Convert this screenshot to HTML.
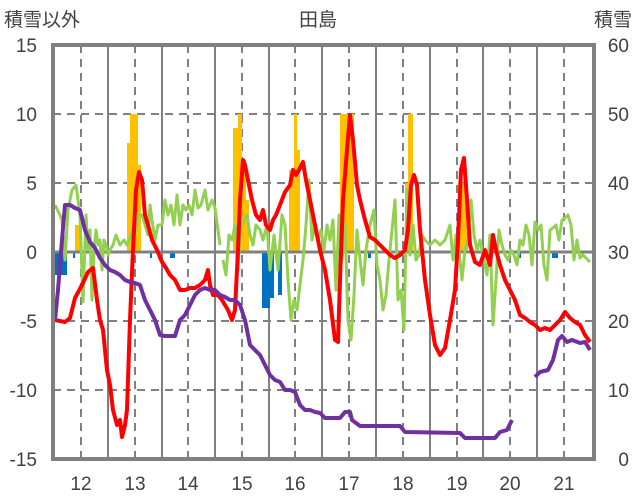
<!DOCTYPE html>
<html><head><meta charset="utf-8"><style>
html,body{margin:0;padding:0;background:#fff;}
svg{display:block;font-family:"Liberation Sans","Noto Sans CJK JP",sans-serif;}
</style></head><body>
<svg width="636" height="501" viewBox="0 0 636 501" xmlns="http://www.w3.org/2000/svg">
<rect width="636" height="501" fill="#fff"/>
<g stroke="#808080" stroke-width="2" stroke-dasharray="8,6">
<line x1="53" y1="114" x2="594" y2="114"/><line x1="53" y1="183" x2="594" y2="183"/>
<line x1="53" y1="321" x2="594" y2="321"/><line x1="53" y1="390" x2="594" y2="390"/>
<line x1="81" y1="45" x2="81" y2="459"/><line x1="135" y1="45" x2="135" y2="459"/>
<line x1="188" y1="45" x2="188" y2="459"/><line x1="242" y1="45" x2="242" y2="459"/>
<line x1="295" y1="45" x2="295" y2="459"/><line x1="349" y1="45" x2="349" y2="459"/>
<line x1="403" y1="45" x2="403" y2="459"/><line x1="457" y1="45" x2="457" y2="459"/>
<line x1="510" y1="45" x2="510" y2="459"/><line x1="564" y1="45" x2="564" y2="459"/>
</g>
<g stroke="#808080" stroke-width="2">
<line x1="108" y1="45" x2="108" y2="459"/><line x1="162" y1="45" x2="162" y2="459"/>
<line x1="215" y1="45" x2="215" y2="459"/><line x1="269" y1="45" x2="269" y2="459"/>
<line x1="322" y1="45" x2="322" y2="459"/><line x1="376" y1="45" x2="376" y2="459"/>
<line x1="430" y1="45" x2="430" y2="459"/><line x1="483" y1="45" x2="483" y2="459"/>
<line x1="537" y1="45" x2="537" y2="459"/>
</g>
<g fill="#ffc000">
<rect x="75" y="225" width="5" height="27"/>
<rect x="127" y="143" width="3" height="109"/><rect x="130" y="114" width="8" height="138"/><rect x="138" y="165" width="3" height="87"/>
<rect x="233" y="128" width="5" height="124"/><rect x="238" y="114" width="4" height="138"/><rect x="242" y="160" width="4" height="92"/><rect x="246" y="200" width="3" height="52"/>
<rect x="289" y="170" width="5" height="82"/><rect x="294" y="114" width="3" height="138"/><rect x="297" y="150" width="3" height="102"/>
<rect x="340" y="114" width="14" height="138"/>
<rect x="405" y="183" width="3" height="69"/><rect x="408" y="114" width="5" height="138"/>
<rect x="458" y="183" width="10" height="69"/>
</g>
<g fill="#0070c0">
<rect x="55" y="252" width="12" height="23"/>
<rect x="262" y="252" width="8" height="56"/><rect x="270" y="252" width="4" height="46"/><rect x="278" y="252" width="4" height="43"/>
<rect x="73" y="252" width="2" height="6"/><rect x="150" y="252" width="2" height="6"/><rect x="170" y="252" width="5" height="6"/>
<rect x="368" y="252" width="3" height="6"/><rect x="518" y="252" width="3" height="6"/><rect x="552" y="252" width="6" height="6"/>
</g>
<line x1="53" y1="252" x2="594" y2="252" stroke="#808080" stroke-width="3"/>
<polyline fill="none" stroke="#92d050" stroke-width="3" stroke-linejoin="round" points="55,205 60,215 62,220 65,260 68,210 72,190 76,185 78,200 80,215 83,302 86,215 88,250 90,230 92,300 94,250 96,230 98,245 100,240 102,270 104,240 106,245 108,255 110,250 113,245 116,235 120,245 124,240 127,245 131,235 134,225 136,232 138,215 142,215 145,225 148,235 150,205 152,220 155,240 158,225 162,225 165,200 168,215 171,205 174,225 177,195 180,225 183,205 186,210 189,205 192,215 195,190 198,208 201,205 205,190 208,210 212,200 215,208 220,245"/>
<polyline fill="none" stroke="#92d050" stroke-width="3" stroke-linejoin="round" points="223,260 226,275 229,235 232,240 235,225 238,270 240,230 244,220 247,215 250,235 253,245 256,225 260,230 263,240 267,225 270,270 274,235 278,270 282,215 285,225 288,280 291,320 294,300 297,310 300,285 303,260 306,225 309,180 312,240 315,225 318,240 321,230 324,250 327,225 330,240 333,220 336,290 339,215 342,260 345,225 348,320 351,340 354,295 357,230 360,260 363,285 366,250 370,225 374,210 377,265 380,280 383,310 386,295 389,260 392,230 395,200 398,300 401,290 404,330 407,190 410,255 413,225 416,260 419,255 422,235 425,240 430,245 435,240 440,245 445,240 450,225 453,260 456,235 459,250 462,280 465,250 468,240 471,200 474,235 477,250 480,240 484,260 487,275 490,235 493,325 496,280 499,230 502,245 505,255 508,260 511,250 514,255 517,265 520,240 523,245 526,225 529,235 532,265 535,222 538,230 541,225 544,265 547,280 550,230 553,228 556,225 559,240 562,220 565,218 568,215 571,225 574,260 577,240 580,258 583,255 586,258 590,262"/>
<polyline fill="none" stroke="#ff0000" stroke-width="4" stroke-linejoin="round" points="55,320 65,322 70,318 75,298 82,285 88,272 93,268 97,300 100,320 103,330 107,370 110,385 113,410 117,425 120,420 122,437 125,425 127,410 130,320 133,250 136,190 139,172 142,180 145,215 148,225 152,240 157,250 162,262 166,268 170,275 175,280 180,290 185,290 190,288 195,288 200,285 205,280 208,270 210,285 213,295 218,295 222,300 228,310 232,320 235,310 238,250 240,200 243,160 245,165 248,180 252,200 256,215 260,220 263,210 266,225 270,230 273,220 276,215 280,205 285,192 290,185 293,170 296,175 300,168 303,162 306,180 310,200 313,215 316,230 320,250 325,270 330,300 335,340 338,342 340,280 343,200 347,150 350,115 353,140 357,185 360,200 365,220 370,237 375,240 380,245 385,250 390,255 395,258 400,255 405,250 408,230 411,185 414,175 417,185 420,230 425,280 430,315 435,345 440,355 445,348 450,320 455,290 458,240 461,170 464,158 467,200 470,245 475,262 480,265 485,250 490,265 493,235 496,250 500,265 505,280 510,290 515,300 520,315 525,318 530,322 535,325 540,330 545,328 550,330 555,325 560,320 565,312 570,318 575,322 580,325 585,335 590,342"/>
<polyline fill="none" stroke="#7030a0" stroke-width="4" stroke-linejoin="round" points="55,320 58,290 62,240 65,205 70,205 75,208 80,210 85,230 90,242 95,248 100,258 105,265 110,270 115,272 120,275 125,280 130,282 135,283 140,285 145,300 150,310 155,320 160,335 165,336 170,336 175,336 180,320 185,315 190,305 195,295 200,290 205,288 210,290 215,290 220,295 225,297 230,300 235,300 240,305 245,320 250,345 255,350 260,355 265,365 270,375 275,380 280,382 285,390 290,390 295,392 300,405 305,410 310,410 315,412 320,413 325,418 340,418 345,412 350,412 352,420 360,426 400,426 405,432 460,433 465,438 495,438 500,432 507,430 512,420"/>
<polyline fill="none" stroke="#7030a0" stroke-width="4" stroke-linejoin="round" points="535,377 540,372 548,370 553,360 558,340 562,336 567,342 572,340 580,343 585,342 590,350"/>
<rect x="53" y="45" width="541" height="414" fill="none" stroke="#808080" stroke-width="4"/>
<g font-size="19" fill="#404040" text-anchor="end">
<text x="37" y="52">15</text><text x="37" y="121">10</text><text x="37" y="190">5</text><text x="37" y="259">0</text>
<text x="37" y="328">-5</text><text x="37" y="397">-10</text><text x="37" y="466">-15</text>
</g>
<g font-size="19" fill="#404040" text-anchor="end">
<text x="629" y="52">60</text><text x="629" y="121">50</text><text x="629" y="190">40</text><text x="629" y="259">30</text>
<text x="629" y="328">20</text><text x="629" y="397">10</text><text x="629" y="466">0</text>
</g>
<g font-size="19" fill="#404040" text-anchor="middle">
<text x="81" y="490">12</text><text x="135" y="490">13</text><text x="188" y="490">14</text><text x="242" y="490">15</text>
<text x="295" y="490">16</text><text x="349" y="490">17</text><text x="403" y="490">18</text><text x="457" y="490">19</text>
<text x="510" y="490">20</text><text x="564" y="490">21</text>
</g>
<text x="4" y="26" font-size="19" fill="#404040">積雪以外</text>
<text x="318" y="26" font-size="19" fill="#404040" text-anchor="middle">田島</text>
<text x="632" y="26" font-size="19" fill="#404040" text-anchor="end">積雪</text>
</svg>
</body></html>
